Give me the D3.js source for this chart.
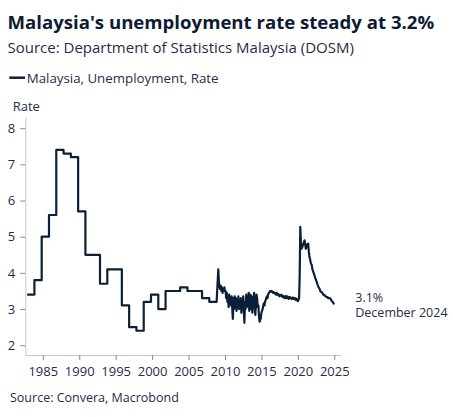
<!DOCTYPE html>
<html>
<head>
<meta charset="utf-8">
<script src="https://cdn.jsdelivr.net/npm/d3@7"></script>
<style>
  body { margin: 0; background: #fff; }
  svg { display: block; font-family: "Open Sans", sans-serif; }
</style>
</head>
<body>
<div id="chart"></div>
<script>
// annual figures, 1983-2008 (drawn as steps)
const annualYears = d3.range(1983, 2009);
const annualRate = [3.4, 3.8, 5.0, 5.6, 7.4, 7.3, 7.2, 5.7, 4.5, 4.5, 3.7, 4.1, 4.1,
  3.1, 2.5, 2.4, 3.2, 3.4, 3.0, 3.5, 3.5, 3.6, 3.5, 3.5, 3.3, 3.2];

// monthly figures, Jan 2009 - Dec 2024
const monthlyStartYear = 2009;
const rate2009_2014 = [
  4.1, 3.75, 3.6, 3.55, 3.65, 3.5, 3.6, 3.45, 3.55, 3.5, 3.6, 3.5,
  3.5, 3.3, 3.45, 3.2, 3.35, 3.05, 3.4, 3.15, 3.3, 3.1, 3.35, 3.0,
  2.73, 3.3, 3.0, 3.35, 3.1, 3.3, 2.95, 3.25, 3.05, 3.35, 3.0, 3.2,
  3.1, 3.3, 2.9, 3.2, 3.05, 3.35, 2.95, 2.62, 3.2, 3.0, 3.4, 3.1,
  3.3, 3.05, 3.45, 2.95, 3.25, 3.4, 3.0, 3.35, 2.9, 3.3, 3.1, 3.45,
  3.0, 2.84, 3.2, 3.4, 3.3, 3.05, 3.1, 2.8, 2.65, 2.7, 2.75, 2.9
];
const rate2015_2019 = [
  2.95, 3.0, 3.1, 3.16, 3.1, 3.2, 3.25, 3.3, 3.35, 3.3, 3.4, 3.44,
  3.45, 3.5, 3.5, 3.48, 3.5, 3.47, 3.45, 3.47, 3.44, 3.45, 3.42, 3.4,
  3.45, 3.4, 3.42, 3.38, 3.4, 3.35, 3.38, 3.37, 3.4, 3.35, 3.33, 3.36,
  3.35, 3.3, 3.33, 3.36, 3.3, 3.32, 3.35, 3.3, 3.28, 3.33, 3.3, 3.32,
  3.3, 3.28, 3.3, 3.32, 3.28, 3.3, 3.27, 3.3, 3.25, 3.28, 3.24, 3.22
];
const rate2020_2024 = [
  3.25, 3.3, 3.9, 5.27, 4.85, 4.67, 4.7, 4.75, 4.8, 4.85, 4.9, 4.8,
  4.67, 4.7, 4.75, 4.8, 4.81, 4.6, 4.45, 4.39, 4.3, 4.25, 4.21, 4.1,
  4.05, 4.0, 3.95, 3.9, 3.84, 3.8, 3.75, 3.7, 3.65, 3.61, 3.58, 3.55,
  3.5, 3.48, 3.47, 3.45, 3.43, 3.4, 3.4, 3.38, 3.36, 3.35, 3.33, 3.33,
  3.33, 3.3, 3.3, 3.3, 3.3, 3.28, 3.25, 3.22, 3.2, 3.18, 3.15, 3.13
];

const xTicks = [1985, 1990, 1995, 2000, 2005, 2010, 2015, 2020, 2025];
const yTicks = [2, 3, 4, 5, 6, 7, 8];

const width = 453, height = 417;
const lineColor = "#0b2038";
const textColor = "#1f2d4a";

// annual values step in a little before the year mark, as in the source
const annualShift = -0.15;
const points = [];
annualYears.forEach((yr, i) => {
  points.push({ t: yr + annualShift, v: annualRate[i] });
  points.push({ t: yr + 1 + annualShift, v: annualRate[i] });
});
const monthly = rate2009_2014.concat(rate2015_2019, rate2020_2024);
monthly.forEach((v, i) => {
  points.push({ t: monthlyStartYear + (i + 1) / 12, v: v });
});

const x = d3.scaleLinear().domain([1982.6, 2025.88]).range([25.3, 340.7]);
const y = d3.scaleLinear().domain([1.73, 8.31]).range([355, 117]);

const svg = d3.select("#chart")
  .append("svg")
  .attr("width", width)
  .attr("height", height);

// titles
svg.append("text")
  .attr("x", 7.5).attr("y", 29.3)
  .attr("fill", "#0d1b33")
  .style("font-size", "18.6px").style("font-weight", 700)
  .text("Malaysia's unemployment rate steady at 3.2%");
svg.append("text")
  .attr("x", 7.5).attr("y", 53.3)
  .attr("fill", textColor)
  .style("font-size", "15px")
  .text("Source: Department of Statistics Malaysia (DOSM)");

// legend
svg.append("line")
  .attr("x1", 9.3).attr("x2", 25).attr("y1", 77.7).attr("y2", 77.7)
  .attr("stroke", lineColor).attr("stroke-width", 2.5);
svg.append("text")
  .attr("x", 26.7).attr("y", 83.3)
  .attr("fill", textColor)
  .style("font-size", "13.3px")
  .text("Malaysia, Unemployment, Rate");

svg.append("text")
  .attr("x", 12.7).attr("y", 110.7)
  .attr("fill", textColor)
  .style("font-size", "13px")
  .text("Rate");

// axes
const gx = svg.append("g")
  .attr("transform", `translate(0,${y.range()[0]})`)
  .call(d3.axisBottom(x).tickValues(xTicks).tickFormat(d3.format("d"))
    .tickSize(5).tickSizeOuter(0).tickPadding(7));
const gy = svg.append("g")
  .attr("transform", `translate(${x.range()[0]},0)`)
  .call(d3.axisLeft(y).tickValues(yTicks).tickFormat(d3.format("d"))
    .tickSize(5).tickSizeOuter(0).tickPadding(5));

[gx, gy].forEach(g => {
  g.select(".domain").attr("stroke", "#c8c8c8");
  g.selectAll(".tick line").attr("stroke", "#8a8a8a");
  g.selectAll(".tick text")
    .attr("fill", textColor)
    .style("font-size", "13px")
    .style("font-family", "'Open Sans', sans-serif");
});

// series
const line = d3.line().x(d => x(d.t)).y(d => y(d.v));
svg.append("path")
  .datum(points)
  .attr("fill", "none")
  .attr("stroke", lineColor)
  .attr("stroke-width", 2.2)
  .attr("stroke-linejoin", "round")
  .attr("d", line);

// last value label
const last = points[points.length - 1];
svg.append("text")
  .attr("x", x(last.t) + 21).attr("y", y(last.v) - 2.6)
  .attr("fill", textColor)
  .style("font-size", "12.5px")
  .text(d3.format(".1f")(last.v) + "%");
svg.append("text")
  .attr("x", x(last.t) + 21).attr("y", y(last.v) + 13)
  .attr("fill", textColor)
  .style("font-size", "12.5px")
  .text("December 2024");

// footer
svg.append("text")
  .attr("x", 10).attr("y", 402.3)
  .attr("fill", textColor)
  .style("font-size", "12.5px")
  .text("Source: Convera, Macrobond");
</script>
</body>
</html>
